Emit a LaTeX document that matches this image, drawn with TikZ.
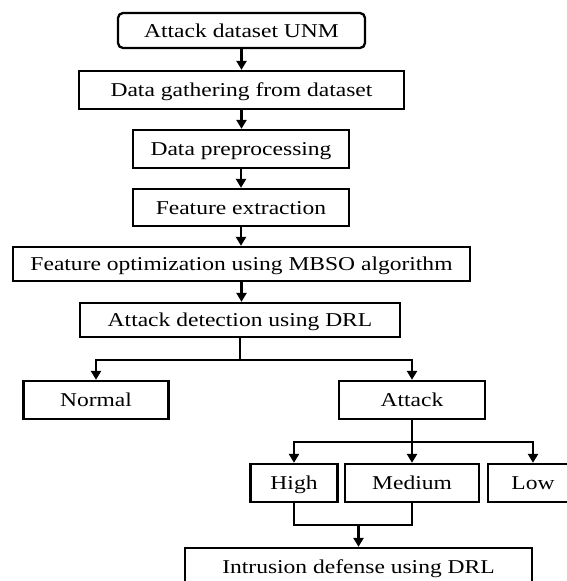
\documentclass[tikz,border=0pt]{standalone}
\usepackage{fontspec}
\setmainfont[FakeStretch=1.2]{Liberation Serif}
\usetikzlibrary{arrows.meta}

\begin{document}
\begin{tikzpicture}[x=1pt, y=-1pt,
    box/.style={draw, rectangle, line width=2.3pt, inner sep=0pt, align=center, text height=13pt, text depth=0pt, font=\fontsize{19.6}{22}\selectfont},
    arr/.style={-{Triangle[length=9pt, width=10pt]}, line width=2.3pt},
    wire/.style={line width=2.3pt}]
    \useasboundingbox (0,0) rectangle (566,581);

    % Nodes
    \node[box, rounded corners=5pt, minimum width=247pt, minimum height=35pt] (source) at (241.5,30.5) {Attack dataset UNM};
    \node[box, minimum width=325pt, minimum height=38pt] (gather) at (241.5,90) {Data gathering from dataset};
    \node[box, minimum width=216pt, minimum height=38pt] (prep) at (241,149) {Data preprocessing};
    \node[box, minimum width=216pt, minimum height=37pt] (extract) at (241,207.5) {Feature extraction};
    \node[box, minimum width=457pt, minimum height=34pt] (optim) at (241.5,264) {Feature optimization using MBSO algorithm};
    \node[box, minimum width=320pt, minimum height=34pt] (detect) at (240,320) {Attack detection using DRL};

    \node[box, minimum width=145pt, minimum height=38pt] (normal) at (96,400) {Normal};
    \node[box, minimum width=146pt, minimum height=38pt] (attack) at (412,400) {Attack};

    \node[box, minimum width=87pt, minimum height=38pt] (high) at (294,483) {High};
    \node[box, minimum width=134pt, minimum height=38pt] (medium) at (412,483) {Medium};
    \node[box, minimum width=90pt, minimum height=38pt] (low) at (533,483) {Low};

    \node[box, minimum width=347pt, minimum height=37pt] (defense) at (358.5,566.5) {Intrusion defense using DRL};

    % Arrows
    \draw[arr] (source.south) -- (source.south |- gather.north);
    \draw[arr] (gather.south) -- (gather.south |- prep.north);
    \draw[arr] (prep.south) -- (prep.south |- extract.north);
    \draw[arr] (extract.south) -- (extract.south |- optim.north);
    \draw[arr] (optim.south) -- (optim.south |- detect.north);

    % Split after detection
    \draw[arr] (detect.south) -- ++(0,22) -| (normal.north);
    \draw[arr] (detect.south) -- ++(0,22) -| (attack.north);

    % Attack levels
    \draw[arr] (attack.south) -- ++(0,22) -| (high.north);
    \draw[arr] (attack.south) -- (medium.north);
    \draw[arr] (attack.south) -- ++(0,22) -| (low.north);

    % Merge into defense
    \draw[wire] (high.south) -- ++(0,22) coordinate (hm) -| (medium.south);
    \draw[arr] (hm -| defense.north) -- (defense.north);
\end{tikzpicture}
\end{document}
